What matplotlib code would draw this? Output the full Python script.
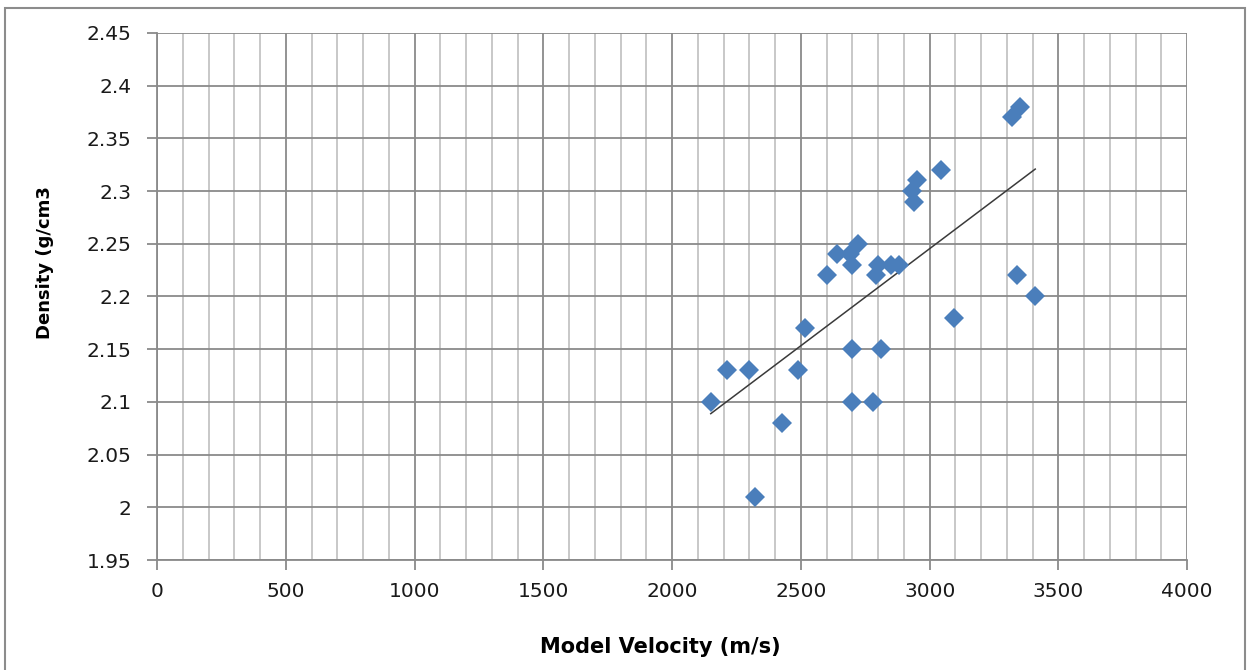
import numpy as np
import matplotlib.pyplot as plt
from matplotlib.ticker import MultipleLocator
from matplotlib.patches import Rectangle

# Data
velocity = [2150, 2215, 2300, 2320, 2425, 2490, 2515, 2600, 2640, 2690,
            2720, 2700, 2700, 2700, 2780, 2800, 2790, 2810, 2850, 2880,
            2930, 2950, 2940, 3045, 3095, 3320, 3350, 3340, 3410]
density = [2.10, 2.13, 2.13, 2.01, 2.08, 2.13, 2.17, 2.22, 2.24, 2.24,
           2.25, 2.23, 2.15, 2.10, 2.10, 2.23, 2.22, 2.15, 2.23, 2.23,
           2.30, 2.31, 2.29, 2.32, 2.18, 2.37, 2.38, 2.22, 2.20]

fig = plt.figure(figsize=(12.47, 6.70), dpi=100)
ax = fig.add_axes([0.126, 0.164, 0.826, 0.787])

# Linear trendline
v = np.array(velocity)
d = np.array(density)
slope, intercept = np.polyfit(v, d, 1)
xt = np.array([v.min(), v.max()])
ax.plot(xt, slope * xt + intercept, color='#3a3a3a', linewidth=1.1, zorder=3)

ax.plot(velocity, density, linestyle='none', marker='D', markersize=10,
        color='#4a7ebb', markeredgewidth=0, zorder=4)

ax.set_xlim(0, 4000)
ax.set_ylim(1.95, 2.45)
ax.xaxis.set_major_locator(MultipleLocator(500))
ax.xaxis.set_minor_locator(MultipleLocator(100))
ax.yaxis.set_major_locator(MultipleLocator(0.05))
ax.set_yticklabels([f'{t:g}' for t in ax.get_yticks()])

ax.grid(which='major', axis='x', color='#8a8a8a', linewidth=1.3)
ax.grid(which='minor', axis='x', color='#c4c4c4', linewidth=1.3)
ax.grid(which='major', axis='y', color='#8a8a8a', linewidth=1.3)
ax.set_axisbelow(True)

for s in ['top', 'right']:
    ax.spines[s].set_visible(False)
for s in ['left', 'bottom']:
    ax.spines[s].set_color('#8a8a8a')
    ax.spines[s].set_linewidth(1.3)

ax.tick_params(which='major', length=7, width=1.3, color='#8a8a8a',
               labelsize=14.5, labelcolor='#1a1a1a')
ax.tick_params(axis='y', pad=11.5)
ax.tick_params(axis='x', pad=9)
ax.tick_params(which='minor', length=0)

ax.set_xlabel('Model Velocity (m/s)', fontsize=15, fontweight='bold')
ax.set_ylabel('Density (g/cm3', fontsize=13, fontweight='bold')
ax.xaxis.set_label_coords(0.489, -0.165)
ax.yaxis.set_label_coords(-0.109, 0.564)
ax.xaxis.label.set_va('center')
ax.yaxis.label.set_va('center')

# outer chart border
fig.patches.append(Rectangle((0.004, -0.01), 0.994, 0.998, transform=fig.transFigure,
                             fill=False, edgecolor='#8c8c8c', linewidth=1.5))

fig.savefig('out.png', dpi=100)
